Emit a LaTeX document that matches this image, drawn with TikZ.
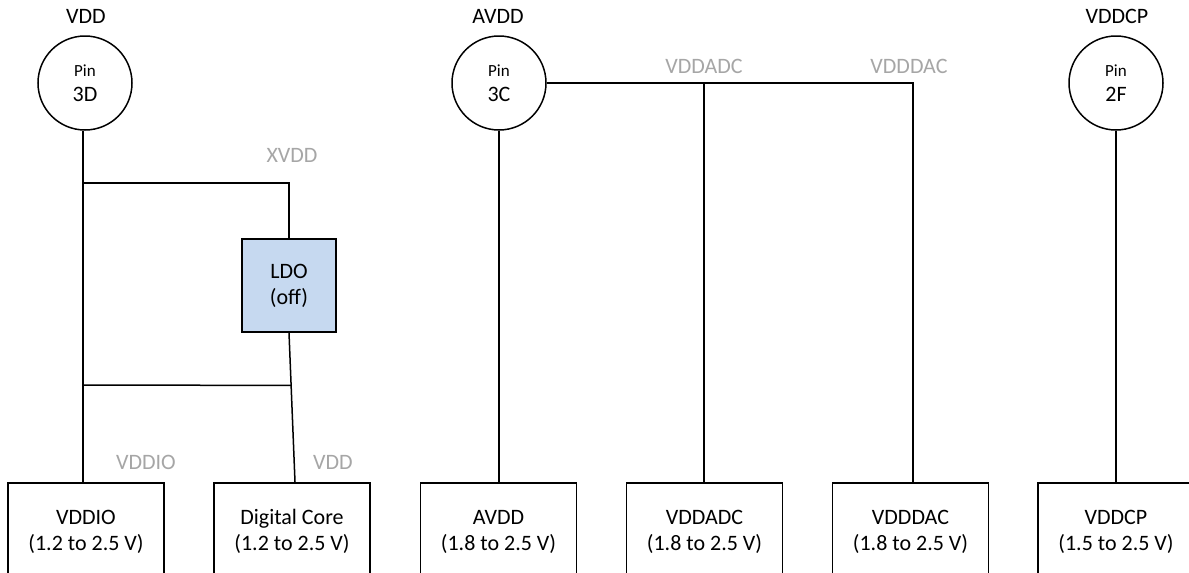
\documentclass[tikz,border=0pt]{standalone}
\usepackage{fontspec}
\setmainfont{Carlito}
\usetikzlibrary{calc}
\definecolor{lblgray}{RGB}{166,166,166}
\definecolor{ldoblue}{RGB}{198,217,240}
\begin{document}
\begin{tikzpicture}[x=1pt,y=-1pt,line width=1.5pt,
  pinc/.style={circle,draw,minimum size=94pt,inner sep=0pt,align=center,
    font=\fontsize{22}{25}\selectfont},
  blk/.style={draw,minimum width=156pt,minimum height=98pt,inner sep=0pt,align=center,
    font=\fontsize{22}{26}\selectfont},
  ldobox/.style={draw,fill=ldoblue,minimum width=94pt,minimum height=93pt,inner sep=0pt,align=center,
    font=\fontsize{22}{26}\selectfont},
  toplbl/.style={anchor=base,inner sep=0pt,font=\fontsize{22}{26}\selectfont},
  netlbl/.style={anchor=base,inner sep=0pt,text=lblgray,font=\fontsize{22}{26}\selectfont}]
\clip (0,0) rectangle (1189,573);
\fill[white] (0,0) rectangle (1189,573);
% pins
\node[pinc] (pinD) at (85,83) {{\fontsize{17}{20}\selectfont Pin}\\3D};
\node[pinc] (pinC) at (499,83) {{\fontsize{17}{20}\selectfont Pin}\\3C};
\node[pinc] (pinF) at (1116,83) {{\fontsize{17}{20}\selectfont Pin}\\2F};
% top labels
\node[toplbl] (tVDD) at (86,23) {VDD};
\node[toplbl] (tAVDD) at (498,23) {AVDD};
\node[toplbl] (tVDDCP) at (1117,23) {VDDCP};
% LDO
\node[ldobox] (ldo) at (289,285.5) {LDO\\(off)};
% boxes
\node[blk,anchor=north] (vddio) at (86,482) {VDDIO\\(1.2 to 2.5 V)};
\node[blk,anchor=north] (dc) at (292,482) {Digital Core\\(1.2 to 2.5 V)};
\node[blk,anchor=north] (avdd) at (498.5,482) {AVDD\\(1.8 to 2.5 V)};
\node[blk,anchor=north] (vddadc) at (704.5,482) {VDDADC\\(1.8 to 2.5 V)};
\node[blk,anchor=north] (vdddac) at (910.5,482) {VDDDAC\\(1.8 to 2.5 V)};
\node[blk,anchor=north] (vddcp) at (1116,482) {VDDCP\\(1.5 to 2.5 V)};
% net labels
\node[netlbl] (nXVDD) at (292,162) {XVDD};
\node[netlbl] (nVDDIO) at (146,469) {VDDIO};
\node[netlbl] (nVDD) at (333,469) {VDD};
\node[netlbl] (nVDDADC) at (704,73) {VDDADC};
\node[netlbl] (nVDDDAC) at (909,73) {VDDDAC};
% VDD net
\coordinate (vline) at ($(pinD.south)+(-2,0)$);
\draw (vline) -- (vline |- vddio.north);
\coordinate (xv) at (83,183);
\draw (xv) -| (ldo.north);
\coordinate (dcin) at ($(dc.north)+(3,0)$);
\draw (ldo.south) -- (dcin);
\coordinate (byp) at (83,385);
\draw (byp) -- ($(ldo.south)!0.353!(dcin)$);
% AVDD net
\draw (pinC.south) -- (pinC.south |- avdd.north);
\coordinate (jadc) at (704,83);
\coordinate (jdac) at (913,83);
\draw (pinC.east) -- (jdac) -- (jdac |- vdddac.north);
\draw (jadc) -- (jadc |- vddadc.north);
% VDDCP net
\draw (pinF.south) -- (pinF.south |- vddcp.north);
\end{tikzpicture}
\end{document}
